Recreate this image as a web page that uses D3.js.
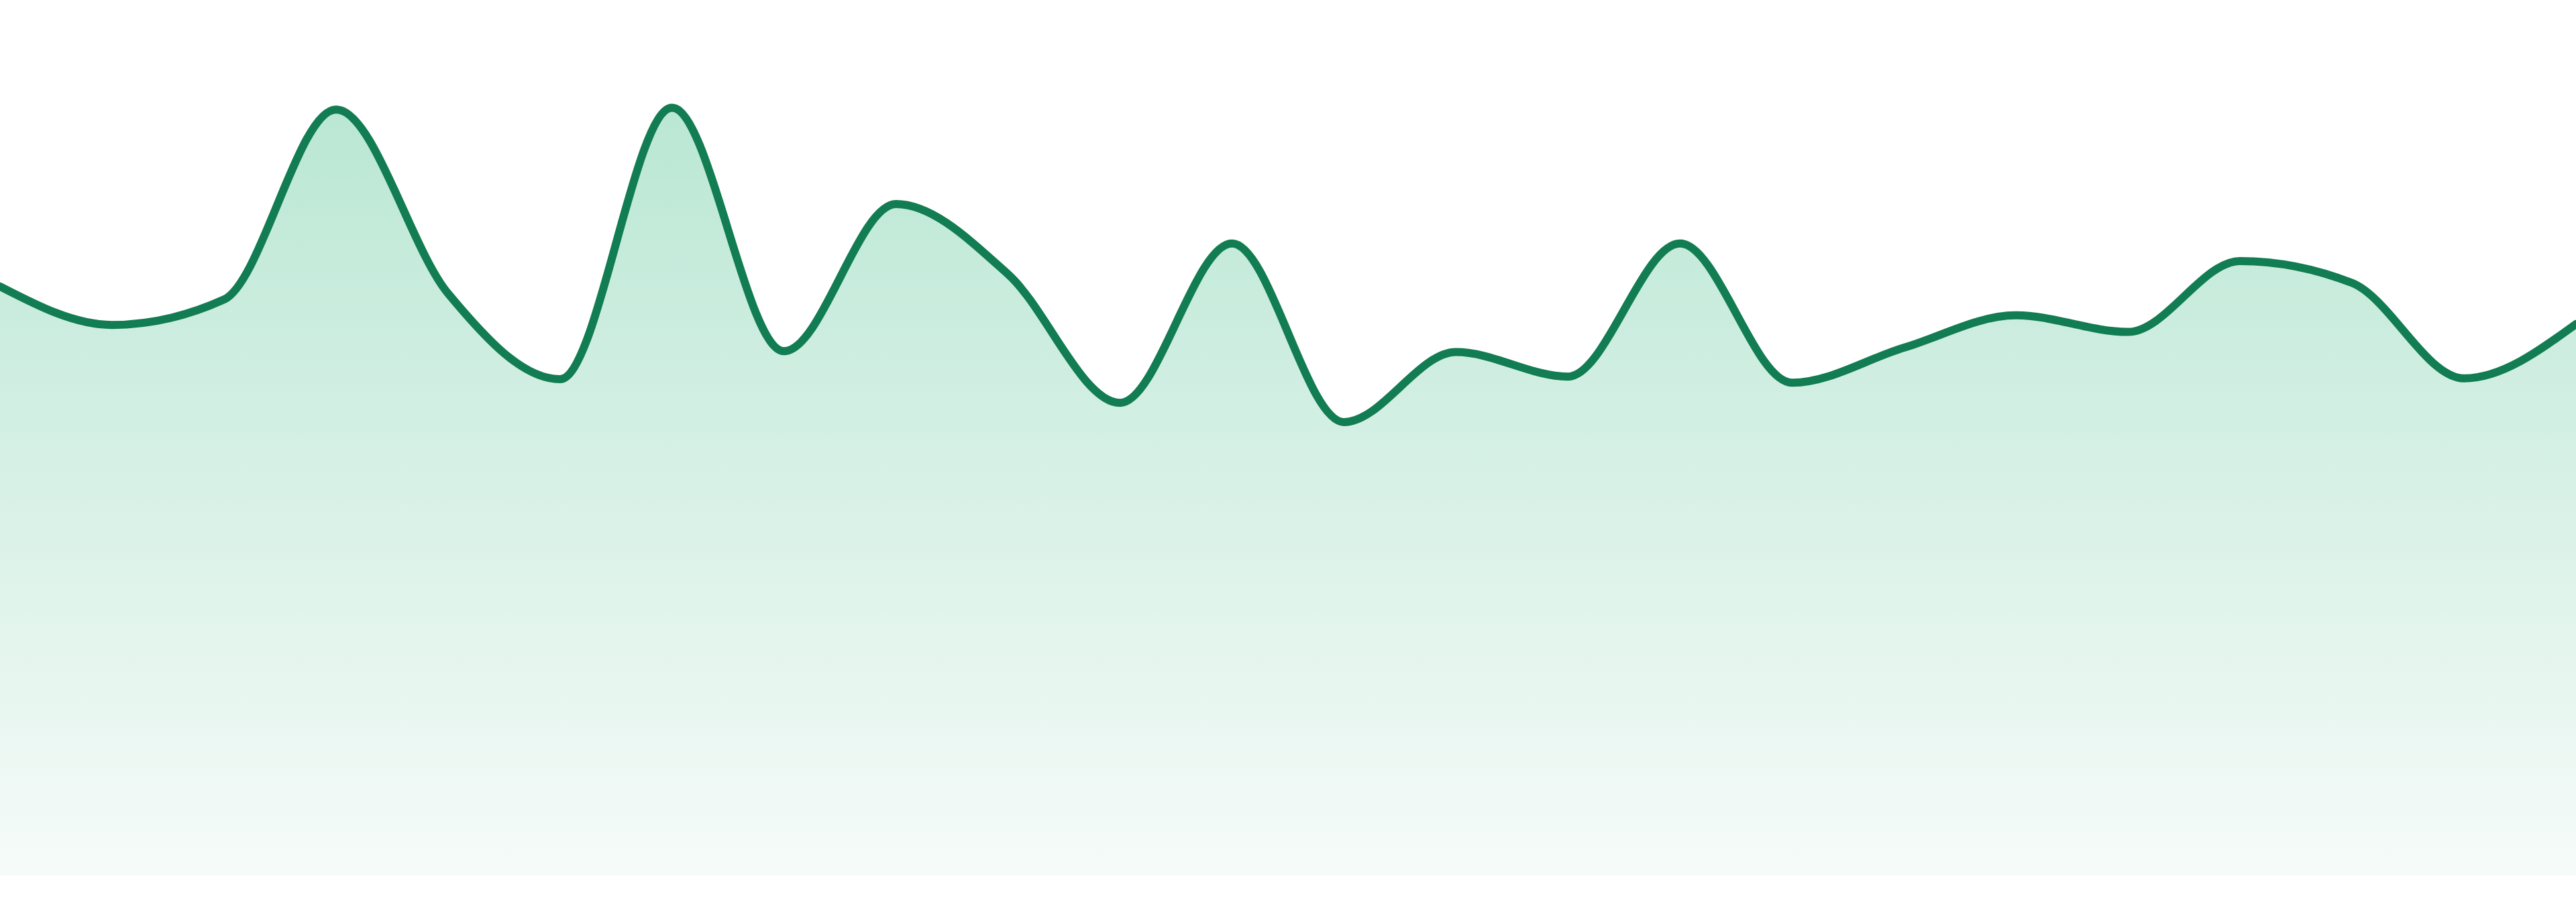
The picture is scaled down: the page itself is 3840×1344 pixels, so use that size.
<!DOCTYPE html>
<html>
<head>
<meta charset="utf-8">
<script src="https://cdn.jsdelivr.net/npm/d3@7"></script>
<style>
  html, body { margin: 0; padding: 0; background: #fff; }
  svg { display: block; }
</style>
</head>
<body>
<div id="chart"></div>
<script>
// 24 samples, one per slot
var slots = d3.range(1, 25).map(String);
var values = [67.3, 62.9, 65.8, 87.5, 66.5, 56.7, 87.7, 59.9, 76.7, 68.7, 54.0, 72.2,
              51.8, 59.8, 57.0, 72.2, 56.3, 60.3, 64.0, 62.1, 70.2, 67.7, 56.8, 63.0];
var yDomain = [0, 100];

var width = 3840, height = 1344;
var bottom = 1305;

var svg = d3.select("#chart").append("svg").attr("width", width).attr("height", height);

var x = d3.scalePoint().domain(slots).range([0, width]);
var y = d3.scaleLinear().domain(yDomain).range([bottom, bottom - 13.05 * 100]);

var data = slots.map(function (s, i) { return { slot: s, v: values[i] }; });

// gradient under the line
var grad = svg.append("defs").append("linearGradient").attr("id", "fillGrad")
    .attr("gradientUnits", "userSpaceOnUse")
    .attr("x1", 0).attr("x2", 0)
    .attr("y1", y(d3.max(values))).attr("y2", bottom);
grad.append("stop").attr("offset", "0%").attr("stop-color", "#bae7d4");
grad.append("stop").attr("offset", "100%").attr("stop-color", "#f6fbf9");

var area = d3.area()
    .x(function (d) { return x(d.slot); })
    .y0(bottom)
    .y1(function (d) { return y(d.v); })
    .curve(d3.curveMonotoneX);

var line = d3.line()
    .x(function (d) { return x(d.slot); })
    .y(function (d) { return y(d.v); })
    .curve(d3.curveMonotoneX);

svg.append("path").datum(data).attr("d", area).attr("fill", "url(#fillGrad)");
svg.append("path").datum(data).attr("d", line)
    .attr("fill", "none").attr("stroke", "#127c52").attr("stroke-width", 12)
    .attr("stroke-linejoin", "round").attr("stroke-linecap", "round");
</script>
</body>
</html>
